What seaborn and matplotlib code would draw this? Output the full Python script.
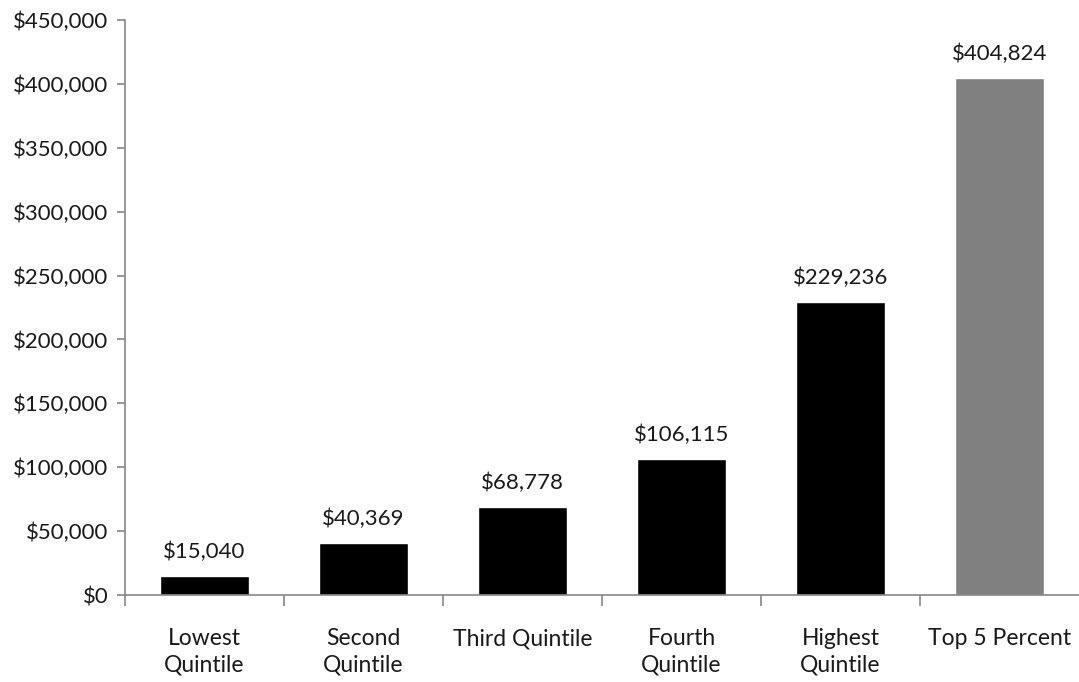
import matplotlib
matplotlib.use("Agg")
import matplotlib.pyplot as plt
import seaborn as sns
import pandas as pd
from matplotlib.ticker import FuncFormatter, MultipleLocator

categories = ["Lowest\nQuintile", "Second\nQuintile", "Third Quintile",
              "Fourth\nQuintile", "Highest\nQuintile", "Top 5 Percent"]
values = [15040, 40369, 68778, 106115, 229236, 404824]
bar_colors = ["#000000", "#000000", "#000000", "#000000", "#000000", "#808080"]

sns.set_theme(style="white")
plt.rcParams["font.family"] = ["Lato", "DejaVu Sans"]

df = pd.DataFrame({"group": categories, "income": values})

fig = plt.figure(figsize=(10.79, 6.82), dpi=100)
ax = fig.add_axes([125 / 1079, 1 - 595 / 682, 1 - 125 / 1079, (595 - 20) / 682])

sns.barplot(data=df, x="group", y="income", hue="group", palette=bar_colors,
            width=0.555, legend=False, ax=ax, saturation=1)

ax.set_ylim(0, 450000)
ax.set_xlim(-0.5, len(categories) - 0.5)
ax.yaxis.set_major_locator(MultipleLocator(50000))
ax.yaxis.set_major_formatter(FuncFormatter(lambda v, p: f"${v:,.0f}"))
ax.set_xlabel("")
ax.set_ylabel("")

axis_color = "#868686"
text_color = "#1a1a1a"
for side in ["top", "right"]:
    ax.spines[side].set_visible(False)
for side in ["left", "bottom"]:
    ax.spines[side].set_color(axis_color)
    ax.spines[side].set_linewidth(1.2)

# category boundary ticks below the x axis
ax.set_xticks([i - 0.5 for i in range(len(categories))], minor=False)
ax.set_xticklabels([""] * len(categories))
ax.set_xticks(range(len(categories)), minor=True)
ax.set_xticklabels(categories, minor=True, fontsize=16.5, color=text_color, linespacing=1.3)
ax.tick_params(axis="x", which="major", direction="out", length=8, width=1.2,
               color=axis_color, bottom=True)
ax.tick_params(axis="x", which="minor", length=0, pad=24)
ax.tick_params(axis="y", direction="out", length=6, width=1.2, color=axis_color,
               labelsize=16, labelcolor=text_color, pad=6, left=True)

for i, v in enumerate(values):
    ax.text(i, v + 11000, f"${v:,}", ha="center", va="bottom", fontsize=16,
            color=text_color)

fig.savefig("out.png", dpi=100)
